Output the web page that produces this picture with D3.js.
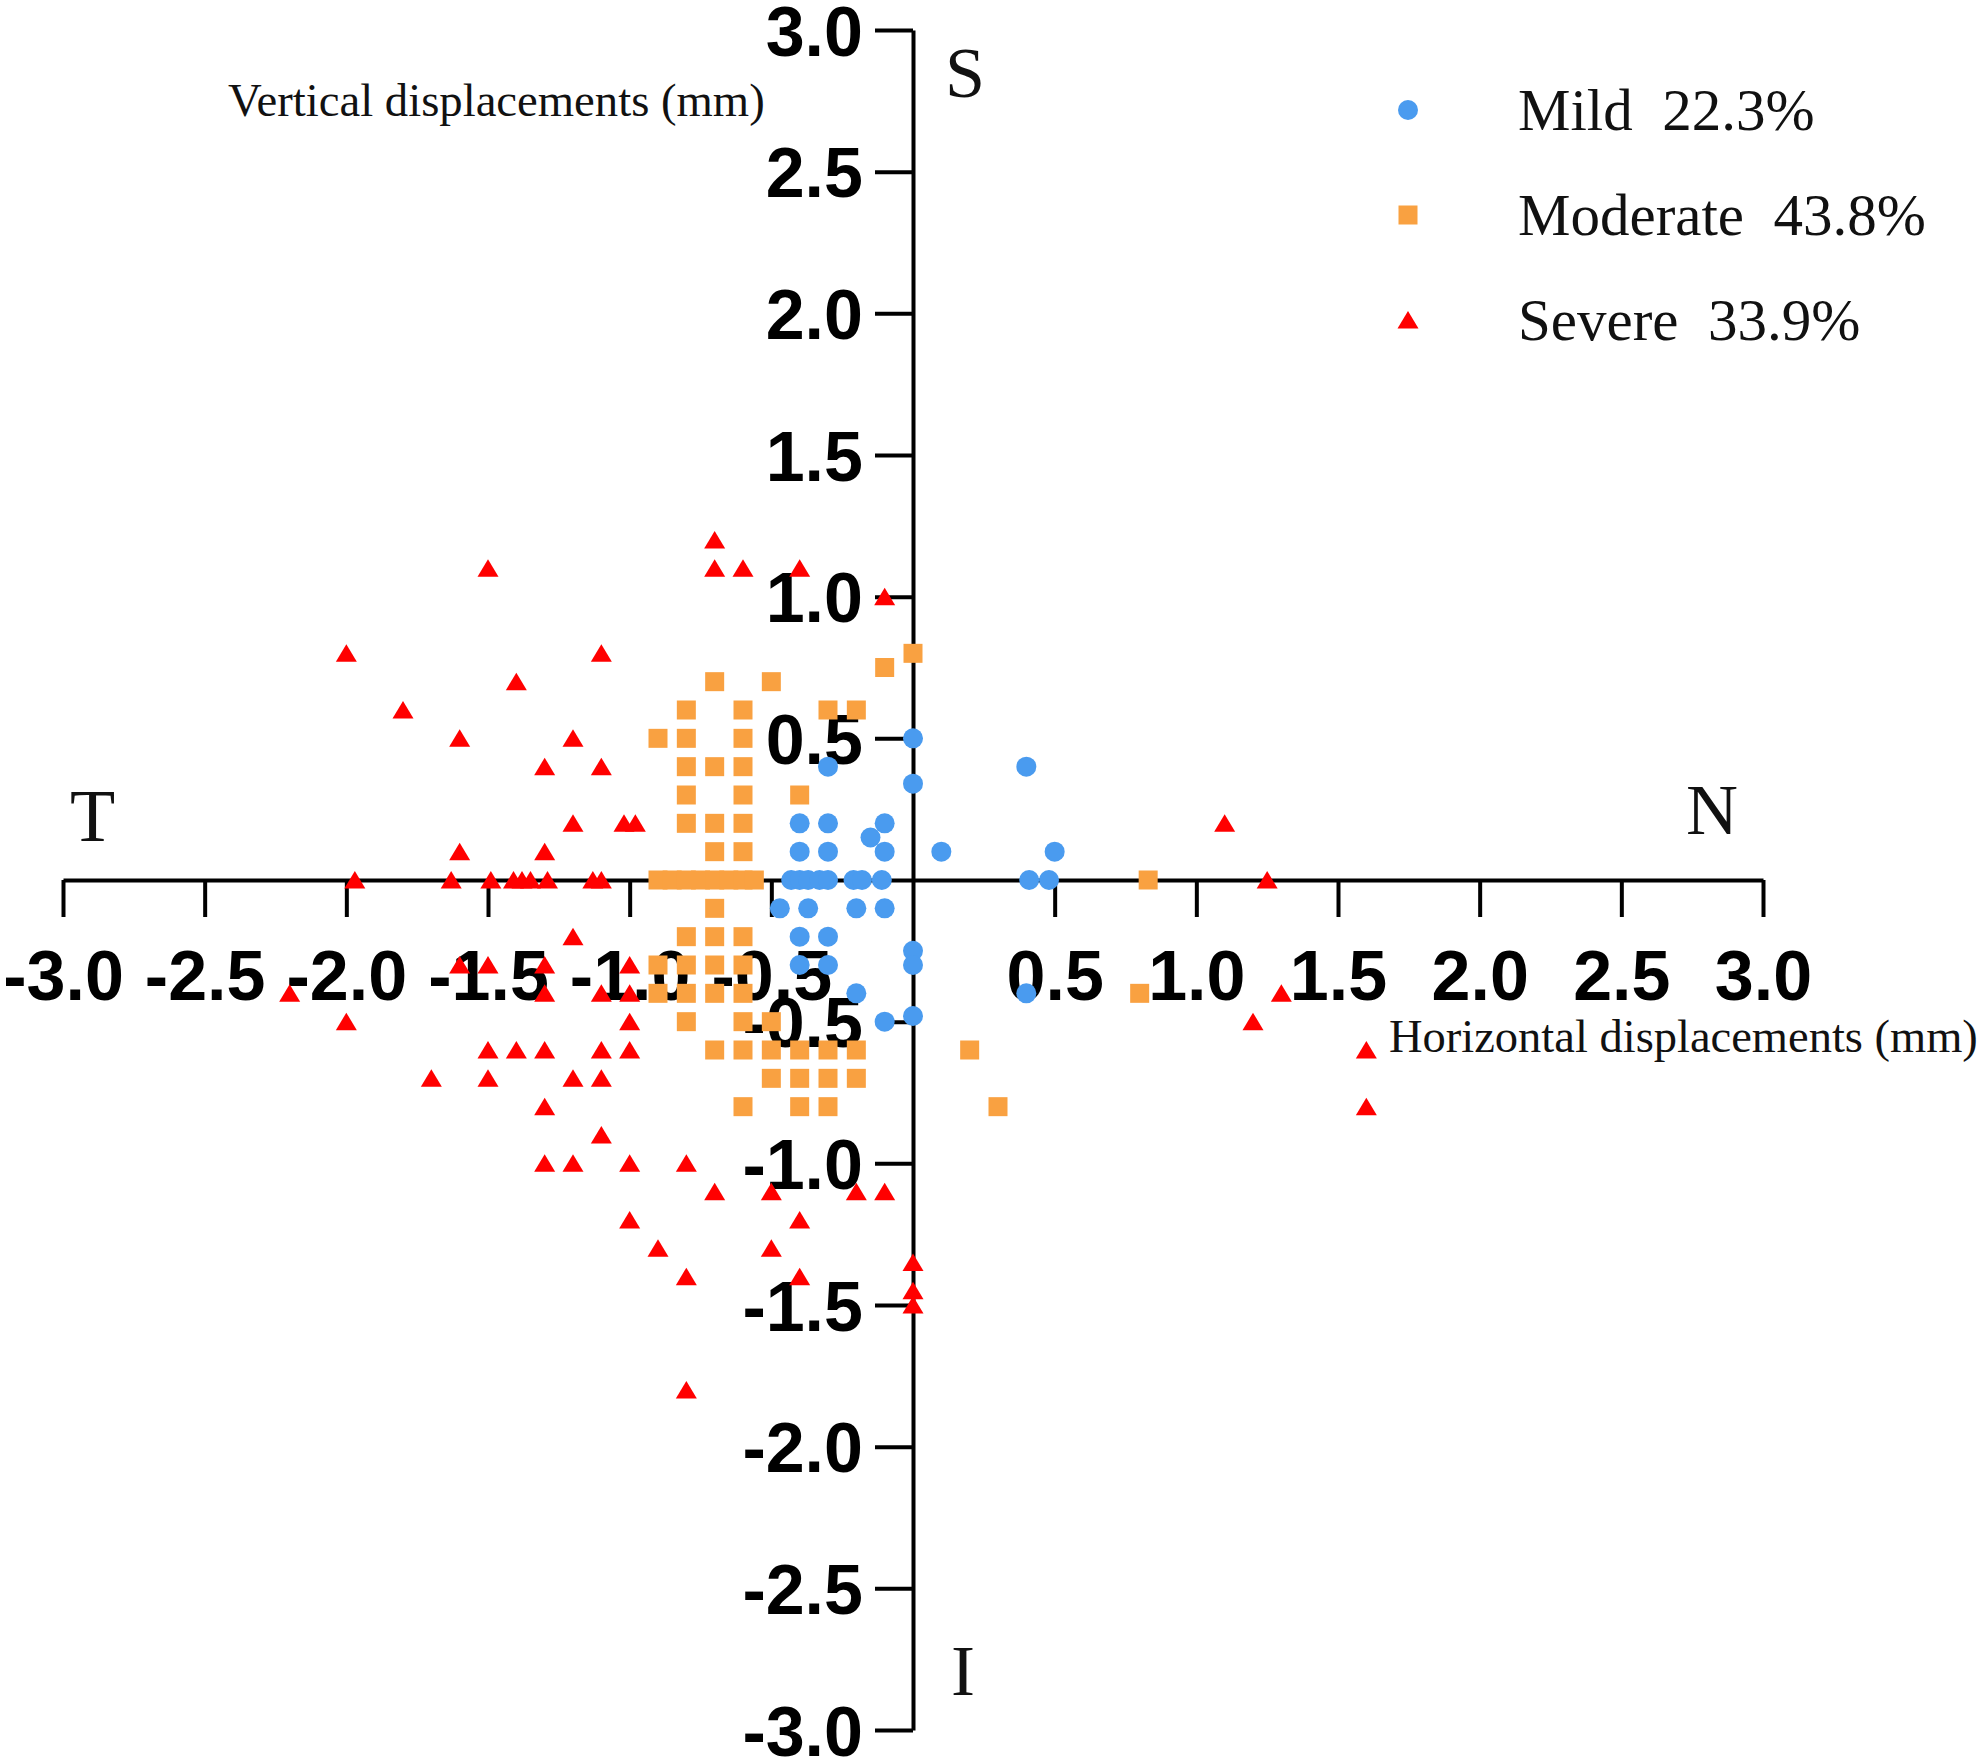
<!DOCTYPE html>
<html>
<head>
<meta charset="utf-8">
<script src="https://cdn.jsdelivr.net/npm/d3@7"></script>
<style>
  body { margin: 0; background: #fff; }
  .tick text { font-family: "Liberation Sans", Arial, sans-serif; font-weight: bold; font-size: 70px; fill: #000; }
  .serif { font-family: "Liberation Serif", "Times New Roman", serif; fill: #111; }
</style>
</head>
<body>
<div id="scatter"></div>
<script>
// chart values (mm)
var mildX = [0, 0, -0.3, -0.4, -0.3, -0.1, -0.15, -0.4, -0.3, -0.1, 0.1,
  -0.43, -0.4, -0.37, -0.33, -0.3, -0.21, -0.18, -0.11,
  -0.47, -0.37, -0.2, -0.1, -0.4, -0.3, -0.4, -0.3, 0, 0, -0.2, -0.1, 0,
  0.4, 0.5, 0.41, 0.48, 0.4];
var mildY = [0.5, 0.34, 0.4, 0.2, 0.2, 0.2, 0.15, 0.1, 0.1, 0.1, 0.1,
  0, 0, 0, 0, 0, 0, 0, 0,
  -0.1, -0.1, -0.1, -0.1, -0.2, -0.2, -0.3, -0.3, -0.25, -0.3, -0.4, -0.5, -0.48,
  0.4, 0.1, 0, 0, -0.4];

var moderateX = [0, -0.1, -0.7, -0.5, -0.8, -0.6, -0.3, -0.2, -0.9, -0.8, -0.6,
  -0.8, -0.7, -0.6, -0.8, -0.6, -0.4, -0.8, -0.7, -0.6, -0.7, -0.6,
  -0.9, -0.85, -0.8, -0.75, -0.7, -0.65, -0.6, -0.56,
  -0.7, -0.8, -0.7, -0.6, -0.9, -0.8, -0.7, -0.6, -0.9, -0.8, -0.7, -0.6,
  -0.8, -0.6, -0.5, -0.7, -0.6, -0.5, -0.4, -0.3, -0.2, -0.5, -0.4, -0.3, -0.2,
  -0.6, -0.4, -0.3, 0.2, 0.3, 0.83, 0.8];
var moderateY = [0.8, 0.75, 0.7, 0.7, 0.6, 0.6, 0.6, 0.6, 0.5, 0.5, 0.5,
  0.4, 0.4, 0.4, 0.3, 0.3, 0.3, 0.2, 0.2, 0.2, 0.1, 0.1,
  0, 0, 0, 0, 0, 0, 0, 0,
  -0.1, -0.2, -0.2, -0.2, -0.3, -0.3, -0.3, -0.3, -0.4, -0.4, -0.4, -0.4,
  -0.5, -0.5, -0.5, -0.6, -0.6, -0.6, -0.6, -0.6, -0.6, -0.7, -0.7, -0.7, -0.7,
  -0.8, -0.8, -0.8, -0.6, -0.8, 0, -0.4];

var severeX = [-0.7, -0.7, -0.6, -0.4, -0.1, -1.1, -1.2, -1.1, -1.2, -1.02, -0.98,
  -1.5, -2.0, -1.4, -1.8, -1.6, -1.3, -1.6, -1.3,
  -1.97, -1.63, -1.49, -1.41, -1.38, -1.35, -1.29, -1.13, -1.1,
  1.1, 1.25, 1.3, 1.2, 1.6, 1.6,
  -1.2, -2.2, -2.0, -1.6, -1.5, -1.3, -1.3, -1.5, -1.4, -1.3, -1.7, -1.5, -1.2, -1.3, -1.3, -1.2,
  -1.0, -1.1, -1.0, -1.0, -1.1, -1.0, -1.1, -1.1,
  -1.0, -0.8, -0.7, -0.5, -0.2, -0.1, -1.0, -0.4, -0.9, -0.5, -0.8, -0.4, 0, 0, 0, -0.8];
var severeY = [1.2, 1.1, 1.1, 1.1, 1.0, 0.8, 0.5, 0.4, 0.2, 0.2, 0.2,
  1.1, 0.8, 0.7, 0.6, 0.5, 0.4, 0.1, 0.1,
  0, 0, 0, 0, 0, 0, 0, 0, 0,
  0.2, 0, -0.4, -0.5, -0.6, -0.8,
  -0.2, -0.4, -0.5, -0.3, -0.3, -0.3, -0.4, -0.6, -0.6, -0.6, -0.7, -0.7, -0.7, -0.8, -1.0, -1.0,
  -0.3, -0.4, -0.4, -0.5, -0.6, -0.6, -0.7, -0.9,
  -1.0, -1.0, -1.1, -1.1, -1.1, -1.1, -1.2, -1.2, -1.3, -1.3, -1.4, -1.4, -1.35, -1.45, -1.5, -1.8];

var xTicks = [-3, -2.5, -2, -1.5, -1, -0.5, 0.5, 1, 1.5, 2, 2.5, 3];
var yTicks = [-3, -2.5, -2, -1.5, -1, -0.5, 0.5, 1, 1.5, 2, 2.5, 3];
var legendLabels = ["Mild  22.3%", "Moderate  43.8%", "Severe  33.9%"];

// svg area
var svgWidth = 1983;
var svgHeight = 1762;
var colors = { mild: "#4a9bef", moderate: "#f9a141", severe: "#ff0000" };

var svg = d3.select("#scatter").append("svg")
    .attr("width", svgWidth)
    .attr("height", svgHeight)
    .style("background", "#fff");

// scales, same px per mm on both axes
var xScale = d3.scaleLinear().domain([-3, 3]).range([63, 1763]);
var yScale = d3.scaleLinear().domain([-3, 3]).range([1730, 30]);

var fmt = function(d) { return d.toFixed(1); };

// axes cross at the origin
var xAxisG = svg.append("g")
    .attr("transform", `translate(0, ${yScale(0)})`)
    .call(d3.axisBottom(xScale).tickValues(xTicks).tickSize(37).tickSizeOuter(0).tickPadding(33).tickFormat(fmt));

var yAxisG = svg.append("g")
    .attr("transform", `translate(${xScale(0)}, 0)`)
    .call(d3.axisLeft(yScale).tickValues(yTicks).tickSize(38).tickSizeOuter(0).tickPadding(12).tickFormat(fmt));

yAxisG.selectAll(".tick text").attr("dy", "0.36em");

[xAxisG, yAxisG].forEach(function(g) {
  g.select(".domain").attr("stroke", "#000").attr("stroke-width", 4);
  g.selectAll(".tick line").attr("stroke", "#000").attr("stroke-width", 4);
});

// direction letters and axis titles
var words = [
  { t: "S", x: 945, y: 97, s: 72 },
  { t: "I", x: 951, y: 1695, s: 72 },
  { t: "T", x: 70, y: 841, s: 74 },
  { t: "N", x: 1686, y: 834, s: 72 },
  { t: "Vertical displacements (mm)", x: 228, y: 116, s: 46.7 },
  { t: "Horizontal displacements (mm)", x: 1389, y: 1052, s: 46.5 }
];
svg.append("g").selectAll("text")
  .data(words)
  .enter()
  .append("text")
  .attr("class", "serif")
  .attr("x", d => d.x)
  .attr("y", d => d.y)
  .style("font-size", d => d.s + "px")
  .text(d => d.t);

// marker shapes
var tri = "M0,-9L10.5,8.5L-10.5,8.5Z";

function toPoints(xs, ys) {
  return xs.map(function(x, i) { return { x: x, y: ys[i] }; });
}

var pts = svg.append("g");

pts.selectAll("circle")
  .data(toPoints(mildX, mildY))
  .enter()
  .append("circle")
  .attr("cx", d => xScale(d.x))
  .attr("cy", d => yScale(d.y))
  .attr("r", 10)
  .attr("fill", colors.mild);

pts.selectAll("rect")
  .data(toPoints(moderateX, moderateY))
  .enter()
  .append("rect")
  .attr("x", d => xScale(d.x) - 9.5)
  .attr("y", d => yScale(d.y) - 9.5)
  .attr("width", 19)
  .attr("height", 19)
  .attr("fill", colors.moderate);

pts.selectAll("path")
  .data(toPoints(severeX, severeY))
  .enter()
  .append("path")
  .attr("d", tri)
  .attr("transform", d => `translate(${xScale(d.x)}, ${yScale(d.y)})`)
  .attr("fill", colors.severe);

// legend
var legend = svg.append("g");
var legendY = d3.scalePoint().domain(legendLabels).range([110, 320]);

legend.append("circle")
  .attr("cx", 1408).attr("cy", legendY(legendLabels[0]))
  .attr("r", 10).attr("fill", colors.mild);
legend.append("rect")
  .attr("x", 1398.5).attr("y", legendY(legendLabels[1]) - 9.5)
  .attr("width", 19).attr("height", 19).attr("fill", colors.moderate);
legend.append("path")
  .attr("d", tri)
  .attr("transform", `translate(1408, ${legendY(legendLabels[2])})`)
  .attr("fill", colors.severe);

legend.selectAll("text")
  .data(legendLabels)
  .enter()
  .append("text")
  .attr("class", "serif")
  .attr("x", 1518)
  .attr("y", d => legendY(d) + 20)
  .style("font-size", "59px")
  .style("white-space", "pre")
  .text(d => d);
</script>
</body>
</html>
